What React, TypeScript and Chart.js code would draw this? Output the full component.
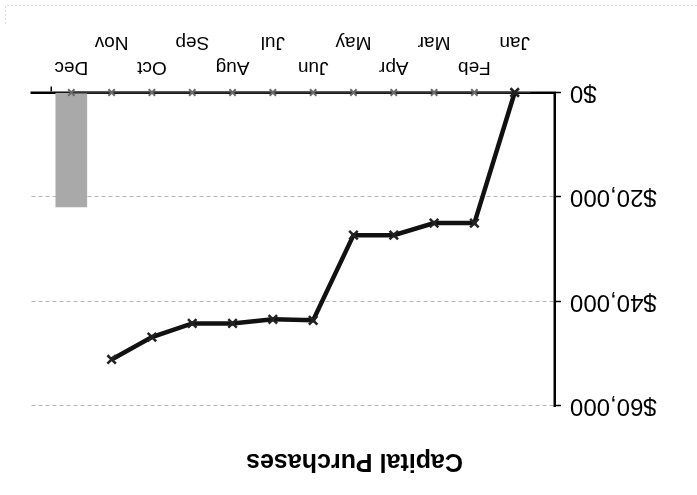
import React, { useEffect, useRef } from 'react';
import { Chart, registerables } from 'chart.js';

Chart.register(...registerables);

const chartTitle = 'Capital Purchases';
const months = ['Jan', 'Feb', 'Mar', 'Apr', 'May', 'Jun', 'Jul', 'Aug', 'Sep', 'Oct', 'Nov', 'Dec'];
const cumulativeSpend = [0, 25000, 25000, 27300, 27300, 43600, 43400, 44200, 44200, 46800, 51100, null];
const monthlyBudget = [0, 0, 0, 0, 0, 0, 0, 0, 0, 0, 0, 21900];
const baselineValues = [0, 0, 0, 0, 0, 0, 0, 0, 0, 0, 0, 0];
const yTickValues = [0, 20000, 40000, 60000];

const FONT = '"Liberation Sans", Arial, Helvetica, sans-serif';

const framePlugin = {
  id: 'scanFrame',
  beforeDraw(chart: any) {
    const { ctx, width, height } = chart;
    ctx.save();
    ctx.strokeStyle = '#dcdcdc';
    ctx.lineWidth = 1;
    ctx.setLineDash([2, 2]);
    ctx.beginPath();
    ctx.moveTo(0, height - 5.5);
    ctx.lineTo(width - 5.5, height - 5.5);
    ctx.lineTo(width - 5.5, height - 25);
    ctx.stroke();
    ctx.restore();
  },
};

export default function App() {
  const ref = useRef<HTMLCanvasElement | null>(null);

  useEffect(() => {
    const canvas = ref.current;
    if (!canvas) return;
    const toPts = (arr: (number | null)[]) => arr.map((v, i) => ({ x: i + 1, y: v }));

    const chart = new Chart(canvas, {
      type: 'bar',
      plugins: [framePlugin],
      data: {
        datasets: [
          {
            type: 'line',
            label: 'Cumulative',
            data: toPts(cumulativeSpend),
            borderColor: '#111',
            borderWidth: 4.5,
            pointStyle: 'crossRot',
            pointRadius: 6,
            pointBorderWidth: 2.5,
            pointBorderColor: '#222',
            pointBackgroundColor: '#222',
            tension: 0,
            clip: false,
            order: 1,
          } as any,
          {
            type: 'line',
            label: 'Baseline',
            data: toPts(baselineValues),
            borderColor: '#333',
            borderWidth: 2,
            pointStyle: 'crossRot',
            pointRadius: 4.5,
            pointBorderWidth: 2,
            pointBorderColor: '#6a6a6a',
            clip: false,
            order: 2,
          } as any,
          {
            type: 'bar',
            label: 'Monthly',
            data: toPts(monthlyBudget),
            backgroundColor: '#a9a9a9',
            borderWidth: 0,
            barThickness: 31,
            order: 3,
          } as any,
        ],
      },
      options: {
        animation: false,
        responsive: false,
        devicePixelRatio: 1,
        layout: { padding: { left: 19, right: 31, top: 0, bottom: 0 } },
        plugins: {
          legend: { display: false },
          tooltip: { enabled: false },
          title: {
            display: true,
            text: chartTitle,
            color: '#000',
            font: { family: FONT, size: 25, weight: 'bold', lineHeight: 1.2 },
            padding: { top: 19, bottom: 40 },
          },
        },
        scales: {
          x: {
            type: 'linear',
            offset: false,
            min: 0,
            max: 13,
            afterFit: (s: any) => { s.height = 92.5; },
            afterBuildTicks: (s: any) => {
              s.ticks = [0, ...months.map((_, i) => i + 1), 13].map((v) => ({ value: v }));
            },
            ticks: {
              autoSkip: false,
              maxRotation: 0,
              minRotation: 0,
              padding: 7,
              color: '#000',
              font: { family: FONT, size: 19, lineHeight: 1.3 },
              callback: (v: any) => {
                const i = Number(v) - 1;
                if (i < 0 || i >= months.length) return '';
                return i % 2 === 0 ? ['', months[i]] : months[i];
              },
            },
            grid: {
              display: true,
              drawOnChartArea: false,
              tickLength: 6,
              color: (ctx: any) => (ctx.tick && ctx.tick.value === 13 ? '#000' : 'rgba(0,0,0,0)'),
              lineWidth: 1.5,
            },
            border: { display: true, color: '#000', width: 2.5 },
          },
          y: {
            type: 'linear',
            min: 0,
            max: 60000,
            afterFit: (s: any) => { s.width = 123; },
            afterBuildTicks: (s: any) => {
              s.ticks = yTickValues.map((v) => ({ value: v }));
            },
            ticks: {
              padding: 9,
              color: '#000',
              font: { family: FONT, size: 24 },
              callback: (v: any) => '$' + Number(v).toLocaleString('en-US'),
            },
            grid: {
              display: true,
              drawOnChartArea: true,
              tickLength: 6,
              color: (ctx: any) => (ctx.tick && ctx.tick.value === 0 ? 'rgba(0,0,0,0)' : '#b5b5b5'),
              tickColor: '#000',
              tickBorderDash: [],
              tickWidth: 1.5,
              lineWidth: 1,
            },
            border: { display: true, color: '#000', width: 2.5, dash: [4, 3] },
          },
        },
      } as any,
    });

    return () => chart.destroy();
  }, []);

  return (
    <div
      style={{
        position: 'fixed',
        left: 0,
        top: 0,
        width: 697,
        height: 495,
        background: '#fff',
        transform: 'rotate(180deg)',
      }}
    >
      <canvas ref={ref} width={697} height={495} style={{ display: 'block', width: 697, height: 495 }} />
    </div>
  );
}
